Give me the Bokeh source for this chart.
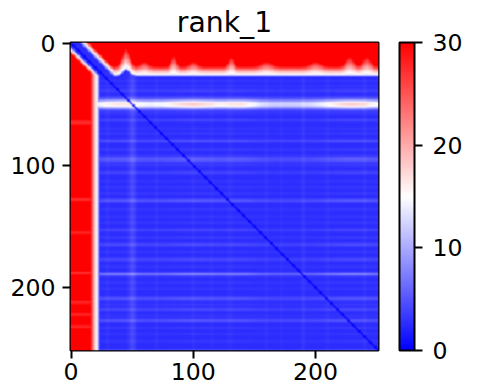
import numpy as np
from bokeh.plotting import figure
from bokeh.models import LinearColorMapper, ColorBar, FixedTicker, Range1d
from bokeh.embed import file_html
from bokeh.resources import INLINE

# ---------------- values ----------------
n_frames = 252
title_text = "rank_1"
vmin, vmax = 0, 30
axis_ticks = [0, 100, 200]
cbar_ticks = [0, 10, 20, 30]

background = 2.6            # typical value of the blue block
diagonal_floor = 0.1        # relative value on the diagonal
band_upper = 10.0           # j-i where early frames turn white (right of diagonal)
band_lower = 5.0            # i-j where early frames turn white (left of diagonal)

top_edge_row = 26.0         # row where the top red block turns white
top_edge_dip_cols = [45]
top_edge_dip_depth = [5.0]
top_edge_dip_width = [3.0]
left_edge_col = 21.5        # column where the left red block turns white
left_plateau = 30.5

# pinkish rows inside the left red block
left_pink_rows = [65, 128, 155, 188, 212, 222, 232]
left_pink_amps = [3.0, 3.0, 2.5, 3.5, 3.0, 2.5, 3.0]
left_pink_width = [1.5, 1.0, 1.0, 1.0, 1.0, 1.0, 1.0]

soft_cols = [20, 45, 60, 84, 100, 131, 160, 200, 228, 242]   # pink streaks in the top block
soft_reach = [8, 10, 4, 9, 4, 8, 4, 4, 8, 8]
soft_width = [5, 3, 3, 2, 3, 2, 4, 4, 3, 3]

streak_rows = [31, 35, 39, 44, 50, 58, 63, 70, 74, 80, 87, 95, 100, 106, 113, 118, 123,
               129, 136, 142, 147, 153, 159, 165, 171, 177, 183, 189, 196, 201, 209,
               214, 218, 223, 227, 233, 238, 244, 251]
streak_amps = [0.6, 0.6, 1.2, 0.6, 13.0, 0.5, 1.4, 0.6, 0.6, 2.0, 0.7, 2.6, 0.8, 1.4, 0.6,
               0.7, 0.6, 2.6, 0.7, 0.6, 0.7, 1.4, 0.7, 1.8, 0.7, 1.4, 0.7, 4.5, 0.7, 0.6,
               2.0, 0.7, 1.4, 0.6, 2.0, 0.7, 0.6, 0.7, 1.8]
streak_width = [0.8, 0.8, 1.0, 0.8, 2.6, 0.8, 1.0, 0.8, 0.8, 1.0, 0.8, 1.8, 0.8, 1.0, 0.8,
                0.8, 0.8, 1.0, 0.8, 0.8, 0.8, 1.0, 0.8, 1.0, 0.8, 1.2, 0.8, 1.0, 0.8, 0.8,
                1.2, 0.8, 1.0, 0.8, 1.0, 0.8, 0.8, 0.8, 0.6]

streak_cols = [30, 50, 70, 100, 115, 130, 160, 172, 190, 210, 240]
streak_col_amps = [0.4, 1.6, 0.4, 0.4, 0.3, 0.4, 0.4, 0.3, 0.7, 0.4, 0.4]
streak_col_width = [1.0, 2.0, 1.0, 1.0, 1.0, 1.5, 1.0, 1.0, 1.0, 1.0, 1.0]

# patchiness of the horizontal streaks along the columns
patch_cols = [40, 100, 140, 230]
patch_amps = [0.35, 0.45, 0.3, 0.45]
patch_width = [15, 20, 10, 18]

# ---------------- build matrix from the arrays above ----------------
idx = np.arange(n_frames, dtype=float)
ii = idx[:, None]
jj = idx[None, :]


def bumps(pos, centers, amps, widths):
    out = np.zeros_like(pos)
    for c, a, w in zip(centers, amps, widths):
        out += a * np.exp(-0.5 * ((pos - c) / w) ** 2)
    return out


def ramp(d, low_w, reach):
    return np.clip(np.where(d < 0, 13 + 13 * d / low_w, 13 + 17 * d / reach), 0, 45)


row_tex = bumps(idx, streak_rows, streak_amps, streak_width)
edge = top_edge_row - bumps(idx, top_edge_dip_cols, top_edge_dip_depth, top_edge_dip_width)
reach = 7 + bumps(idx, soft_cols, soft_reach, soft_width)
upper = np.minimum(ramp(edge[None, :] - ii, 2.5, reach[None, :]),
                   ramp(jj - ii - band_upper, 4.0, 5.0))
left_cap = left_plateau - bumps(idx, left_pink_rows, left_pink_amps, left_pink_width)
lower = np.minimum(np.minimum(ramp(left_edge_col - jj, 3.0, 6.0),
                              ramp(ii - jj - band_lower, 3.0, 4.0)), left_cap[:, None])
patch = 0.75 + bumps(idx, patch_cols, patch_amps, patch_width)
blue = (background
        + row_tex[:, None] * patch[None, :]
        + bumps(idx, streak_cols, streak_col_amps, streak_col_width)[None, :])
blue = blue * np.clip(diagonal_floor + 0.45 * np.abs(ii - jj), 0, 1)
M = np.maximum(np.maximum(upper, lower), blue)

# ---------------- bwr palette ----------------
pal = []
for t in np.linspace(0, 1, 256):
    if t < 0.5:
        r = g = 2 * t
        b = 1.0
    else:
        r = 1.0
        g = b = 2 * (1 - t)
    pal.append("#%02x%02x%02x" % (round(r * 255), round(g * 255), round(b * 255)))

mapper = LinearColorMapper(palette=pal, low=vmin, high=vmax)

FONT = "DejaVu Sans"
TICK_FS = "23.6px"
FW = 308

p = figure(frame_width=FW, frame_height=FW,
           x_range=Range1d(-0.5, n_frames - 0.5),
           y_range=Range1d(n_frames - 0.5, -0.5),
           output_backend="svg", toolbar_location=None,
           min_border_left=70, min_border_top=0, min_border_right=106,
           min_border_bottom=38,
           title=title_text)
p.image(image=[M], x=-0.5, y=-0.5, dw=n_frames, dh=n_frames, color_mapper=mapper)

p.title.align = "center"
p.title.text_font = FONT
p.title.text_font_size = "28.3px"
p.title.text_font_style = "normal"
p.title.text_color = "black"
p.title.standoff = 7

p.xgrid.visible = False
p.ygrid.visible = False
p.outline_line_color = "black"
p.outline_line_width = 2
for ax in (p.xaxis[0], p.yaxis[0]):
    ax.ticker = FixedTicker(ticks=axis_ticks)
    ax.axis_line_color = None
    ax.major_tick_in = 0
    ax.major_tick_out = 8
    ax.major_tick_line_width = 2
    ax.minor_tick_line_color = None
    ax.major_label_text_font = FONT
    ax.major_label_text_font_size = TICK_FS
    ax.major_label_text_color = "black"
p.xaxis[0].major_label_standoff = 4
p.yaxis[0].major_label_standoff = 7

cb = ColorBar(color_mapper=mapper, ticker=FixedTicker(ticks=cbar_ticks),
              width=15, height=FW, padding=0, margin=0, location=(FW + 21, 0),
              major_tick_in=0, major_tick_out=8,
              major_tick_line_color="black", major_tick_line_width=2,
              bar_line_color="black", bar_line_width=2,
              minor_tick_line_color=None,
              major_label_text_font=FONT, major_label_text_font_size=TICK_FS,
              major_label_text_color="black", label_standoff=10,
              background_fill_color=None, border_line_color=None)
p.add_layout(cb, "center")

open("out.html", "w").write(file_html(p, INLINE))
